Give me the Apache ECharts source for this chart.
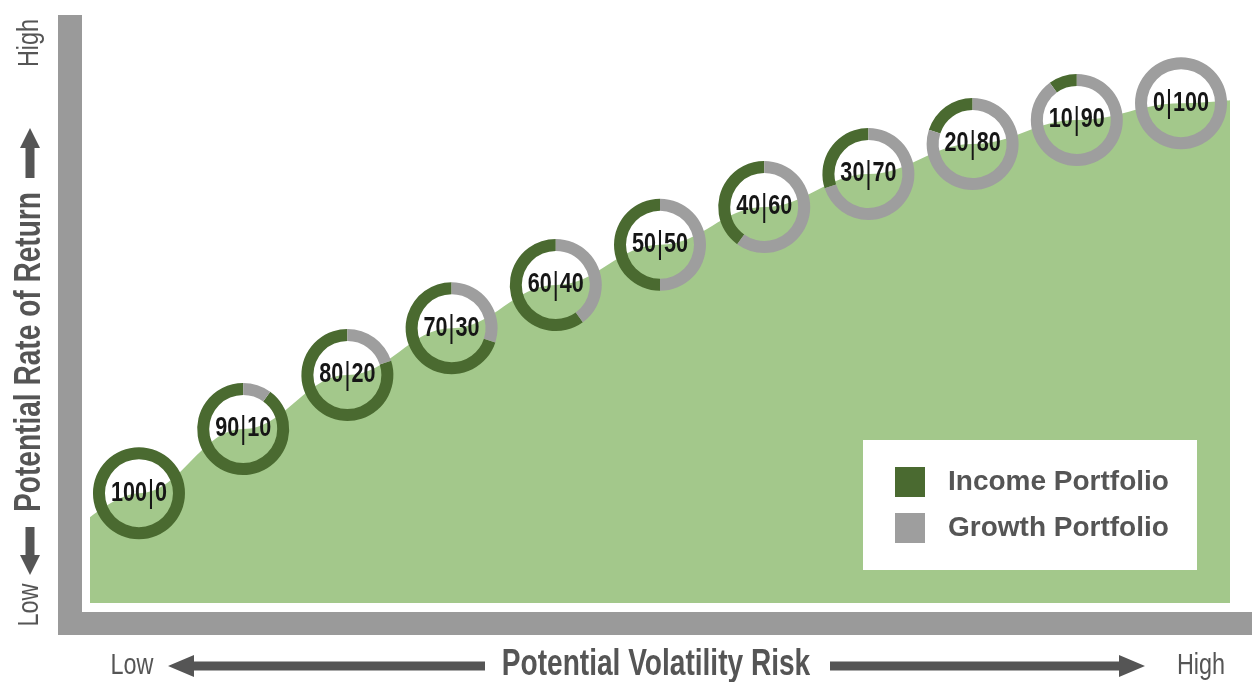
<!DOCTYPE html>
<html>
<head>
<meta charset="utf-8">
<script src="https://cdn.jsdelivr.net/npm/echarts@6/dist/echarts.min.js"></script>
<style>
  html, body { margin: 0; padding: 0; background: #fff; }
  #container { width: 1252px; height: 682px; }
</style>
</head>
<body>
<div id="container"></div>
<script>
var riskSteps = [0, 1, 2, 3, 4, 5, 6, 7, 8, 9, 10];
var returnLevels = [18.3, 29, 38, 45.8, 53, 59.7, 66, 71.5, 76.5, 80.5, 83.3];
var incomeShare = [100, 90, 80, 70, 60, 50, 40, 30, 20, 10, 0];
var curveStart = [-0.47, 14.3];
var curveEnd = [10.47, 83.8];

// no condensed face available, so narrow the text with scaleX
var FONT = "'Liberation Sans', Arial, sans-serif";
var NARROW = 0.78;
var INCOME = "#4a6a30";
var GROWTH = "#9e9e9e";
var AREA = "#a3c88b";
var TXT = "#555555";

var dom = document.getElementById("container");
var myChart = echarts.init(dom, null, { renderer: "canvas" });

var points = riskSteps.map(function (r, i) {
  return [r, returnLevels[i], incomeShare[i]];
});
var curve = [curveStart].concat(points.map(function (p) { return [p[0], p[1]]; })).concat([curveEnd]);

function ring(part) {
  return function (params, api) {
    var c = api.coord([api.value(0), api.value(1)]);
    var f = api.value(2) / 100;
    var top = -Math.PI / 2;
    var start, end;
    if (part === "income") {
      start = top - f * 2 * Math.PI;
      end = top;
    } else {
      start = top;
      end = top + (1 - f) * 2 * Math.PI;
    }
    var children = [];
    if (end - start > 0.001) {
      children.push({
        type: "sector",
        shape: { cx: c[0], cy: c[1], r: 46, r0: 34, startAngle: start, endAngle: end, clockwise: true },
        style: { fill: part === "income" ? INCOME : GROWTH }
      });
    }
    if (part === "growth") {
      var inc = api.value(2);
      children.push({
        type: "text",
        z2: 10,
        x: c[0],
        y: c[1],
        scaleX: 0.8,
        style: {
          text: "{n|" + inc + "}{p||}{n|" + (100 - inc) + "}",
          align: "center", verticalAlign: "middle",
          rich: {
            n: { fontFamily: FONT, fontSize: 27, fontWeight: "bold", fill: "#161616" },
            p: { fontFamily: FONT, fontSize: 31, fontWeight: "normal", fill: "#161616", padding: [0, 1, 0, 1] }
          }
        }
      });
    }
    return { type: "group", children: children };
  };
}

function arrowH(x1, x2, y, dir) {
  // dir: -1 points left, 1 points right
  var h = 4.5, hh = 11, hl = 26;
  var pts;
  if (dir < 0) {
    pts = [[x1, y], [x1 + hl, y - hh], [x1 + hl, y - h], [x2, y - h], [x2, y + h], [x1 + hl, y + h], [x1 + hl, y + hh]];
  } else {
    pts = [[x2, y], [x2 - hl, y - hh], [x2 - hl, y - h], [x1, y - h], [x1, y + h], [x2 - hl, y + h], [x2 - hl, y + hh]];
  }
  return { type: "polygon", shape: { points: pts }, style: { fill: TXT } };
}

function arrowV(x, y1, y2, dir) {
  // dir: -1 points up, 1 points down
  var h = 4.5, hh = 10, hl = 20;
  var pts;
  if (dir < 0) {
    pts = [[x, y1], [x - hh, y1 + hl], [x - h, y1 + hl], [x - h, y2], [x + h, y2], [x + h, y1 + hl], [x + hh, y1 + hl]];
  } else {
    pts = [[x, y2], [x - hh, y2 - hl], [x - h, y2 - hl], [x - h, y1], [x + h, y1], [x + h, y2 - hl], [x + hh, y2 - hl]];
  }
  return { type: "polygon", shape: { points: pts }, style: { fill: TXT } };
}

function label(text, x, y, size, bold, rot) {
  return {
    type: "text", z: 1, x: x, y: y, scaleX: NARROW, rotation: rot || 0,
    style: { text: text, font: (bold ? "bold " : "") + size + "px " + FONT, fill: TXT, align: "center", verticalAlign: "middle" }
  };
}

var option = {
  animation: false,
  grid: { left: 90, right: 22, top: 3, bottom: 79 },
  xAxis: { type: "value", min: -0.47, max: 10.47, show: false },
  yAxis: { type: "value", min: 0, max: 100, show: false },
  legend: {
    orient: "vertical",
    left: 895,
    top: 467,
    z: 20,
    padding: 0,
    itemWidth: 30,
    itemHeight: 30,
    itemGap: 16,
    icon: "rect",
    selectedMode: false,
    data: ["Income Portfolio", "Growth Portfolio"],
    textStyle: { fontFamily: FONT, fontSize: 28, fontWeight: "bold", color: TXT, padding: [0, 0, 0, 18] }
  },
  graphic: [
    { type: "rect", z: 1, shape: { x: 58, y: 15, width: 24, height: 620 }, style: { fill: "#9a9a9a" } },
    { type: "rect", z: 1, shape: { x: 58, y: 612, width: 1194, height: 23 }, style: { fill: "#9a9a9a" } },
    { type: "rect", z: 15, shape: { x: 863, y: 440, width: 334, height: 130 }, style: { fill: "#ffffff" } },
    label("Low", 132, 666, 30, false),
    label("High", 1201, 666, 30, false),
    label("Potential Volatility Risk", 656, 665, 36, true),
    { type: "group", z: 1, children: [arrowH(168, 485, 666, -1), arrowH(830, 1145, 666, 1), arrowV(30, 128, 178, -1), arrowV(30, 527, 575, 1)] },
    label("Potential Rate of Return", 30, 352, 36, true, Math.PI / 2),
    label("High", 30, 43, 30, false, Math.PI / 2),
    label("Low", 30, 605, 30, false, Math.PI / 2)
  ],
  series: [
    {
      name: "Return curve",
      type: "line",
      z: 1,
      data: curve,
      smooth: 0.4,
      smoothMonotone: "x",
      symbol: "none",
      silent: true,
      lineStyle: { width: 0 },
      areaStyle: { color: AREA, opacity: 1 }
    },
    {
      name: "Income Portfolio",
      type: "custom",
      z: 3,
      itemStyle: { color: INCOME },
      renderItem: ring("income"),
      data: points
    },
    {
      name: "Growth Portfolio",
      type: "custom",
      z: 3,
      itemStyle: { color: GROWTH },
      renderItem: ring("growth"),
      data: points
    }
  ]
};

myChart.setOption(option);
window.addEventListener("resize", myChart.resize);
</script>
</body>
</html>
